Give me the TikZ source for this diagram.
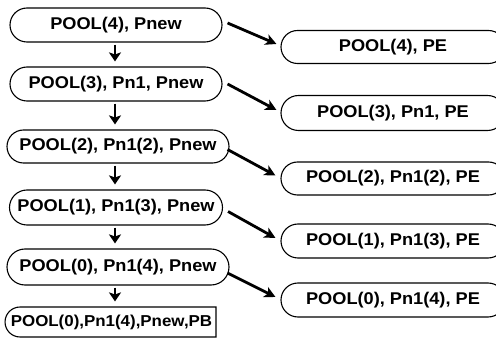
\documentclass[tikz,border=0pt]{standalone}
\usepackage{fontspec}
\setmainfont{Liberation Sans}[FakeStretch=1.07]
\usetikzlibrary{shapes.misc,arrows.meta,calc}
\begin{document}
\begin{tikzpicture}[x=1pt,y=-1pt,
  box/.style={draw,line width=1.1pt,rounded rectangle,inner sep=0pt,
    font=\fontsize{17}{17}\selectfont\bfseries},
  arr/.style={line width=2.8pt,-{Stealth[length=11pt,width=11pt,inset=3pt]}},
  darr/.style={line width=2.8pt,-{Stealth[length=9pt,width=12pt,inset=2pt]}}]
\clip (0,0) rectangle (496,350);
\fill[white] (0,0) rectangle (496,350);
% left column
\node[box,minimum width=212pt,minimum height=34pt] (l1) at (116,25) {POOL(4), Pnew};
\node[box,minimum width=212pt,minimum height=34pt] (l2) at (116,84) {POOL(3), Pn1, Pnew};
\node[box,minimum width=222pt,minimum height=33pt] (l3) at (118,146.5) {POOL(2), Pn1(2), Pnew};
\node[box,minimum width=213pt,minimum height=35pt] (l4) at (116,207.5) {POOL(1), Pn1(3), Pnew};
\node[box,minimum width=222pt,minimum height=36pt] (l5) at (118,267) {POOL(0), Pn1(4), Pnew};
\node[box,rounded rectangle right arc=none,minimum width=211pt,minimum height=30pt,
  font=\fontsize{15.8}{16}\selectfont\bfseries] (l6) at (111.5,322) {POOL(0),Pn1(4),Pnew,PB};
% right column
\node[box,minimum width=224pt,minimum height=33pt] (r1) at (393,47) {POOL(4), PE};
\node[box,minimum width=224pt,minimum height=35pt] (r2) at (393,113) {POOL(3), Pn1, PE};
\node[box,minimum width=224pt,minimum height=33pt] (r3) at (393,178.5) {POOL(2), Pn1(2), PE};
\node[box,minimum width=224pt,minimum height=34pt] (r4) at (393,241) {POOL(1), Pn1(3), PE};
\node[box,minimum width=224pt,minimum height=34pt] (r5) at (393,300) {POOL(0), Pn1(4), PE};
% down arrows
\draw[darr] ([yshift=-2pt]l1.south-|115,0) -- ([yshift=5pt]l2.north-|115,0);
\draw[darr] ([yshift=-2pt]l2.south-|115,0) -- ([yshift=5pt]l3.north-|115,0);
\draw[darr] ([yshift=-2pt]l3.south-|115,0) -- ([yshift=5pt]l4.north-|115,0);
\draw[darr] ([yshift=-2pt]l4.south-|115,0) -- ([yshift=5pt]l5.north-|115,0);
\draw[darr] ([yshift=-2pt]l5.south-|115,0) -- ([yshift=5pt]l6.north-|115,0);
% diagonal arrows
\draw[arr] ($(l1.east)+(5,-2)$) -- ($(r1.west)+(-4,-3)$);
\draw[arr] ($(l2.east)+(5,0)$) -- ($(r2.west)+(-4,-3)$);
\draw[arr] ($(l3.east)+(-2,3)$) -- ($(r3.west)+(-5,-3)$);
\draw[arr] ($(l4.east)+(5,4)$) -- ($(r4.west)+(-5,-3)$);
\draw[arr] ($(l5.east)+(-2,6)$) -- ($(r5.west)+(-5,-3)$);
\end{tikzpicture}
\end{document}
